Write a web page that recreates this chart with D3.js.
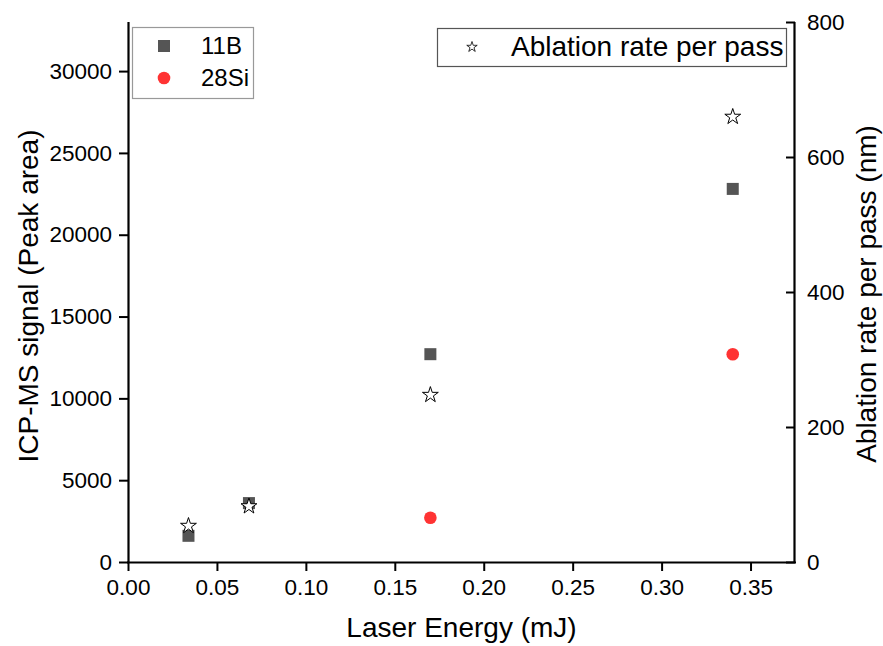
<!DOCTYPE html>
<html>
<head>
<meta charset="utf-8">
<script src="https://cdn.jsdelivr.net/npm/d3@7"></script>
<style>
  html, body { margin: 0; padding: 0; background: #fff; }
  svg text { font-family: "Liberation Sans", Arial, sans-serif; fill: #000; }
</style>
</head>
<body>
<svg id="chart" width="883" height="646"></svg>
<script>
// ---- data ----
const energyB = [0.034, 0.068, 0.17, 0.34];
const signalB = [1600, 3600, 12700, 22800];
const energySi = [0.17, 0.34];
const signalSi = [2700, 12700];
const energyAbl = [0.034, 0.068, 0.17, 0.34];
const ablationRate = [55, 84, 249, 661];
const xTicks = [0, 0.05, 0.10, 0.15, 0.20, 0.25, 0.30, 0.35];
const yLeftTicks = [0, 5000, 10000, 15000, 20000, 25000, 30000];
const yRightTicks = [0, 200, 400, 600, 800];
const seriesNames = ["11B", "28Si", "Ablation rate per pass"];
const xTitle = "Laser Energy (mJ)";
const yLeftTitle = "ICP-MS signal (Peak area)";
const yRightTitle = "Ablation rate per pass (nm)";

// ---- layout ----
const L = 128, R = 795, T = 22, B = 562;
const svg = d3.select("#chart");

const x = d3.scaleLinear().domain([0, 0.375]).range([L, R]);
const yL = d3.scaleLinear().domain([0, 33000]).range([B, T]);
const yR = d3.scaleLinear().domain([0, 800]).range([B, T]);

const tickFont = "22.5px";

function minor(step, dom) {
  const out = [];
  for (let v = dom[0]; v <= dom[1] + 1e-9; v += step) out.push(+v.toFixed(6));
  return out;
}

// X axis
const gx = svg.append("g").attr("transform", `translate(0,${B})`);
gx.call(d3.axisBottom(x).tickValues(minor(0.025, [0, 0.375])).tickSize(5).tickFormat(""));
gx.call(d3.axisBottom(x).tickValues(xTicks).tickSize(9).tickFormat(d3.format(".2f")).tickPadding(8));
gx.selectAll("text").style("font-size", tickFont);

// Left axis
const gl = svg.append("g").attr("transform", `translate(${L},0)`);
gl.call(d3.axisLeft(yL).tickValues(minor(2500, [0, 33000])).tickSize(5).tickFormat(""));
gl.call(d3.axisLeft(yL).tickValues(yLeftTicks).tickSize(9).tickFormat(d3.format("d")).tickPadding(7));
gl.selectAll("text").style("font-size", tickFont);

// Right axis (ticks pointing inward)
const gr = svg.append("g").attr("transform", `translate(${R},0)`);
gr.call(d3.axisLeft(yR).tickValues(minor(100, [0, 800])).tickSize(5).tickFormat(""));
gr.call(d3.axisLeft(yR).tickValues(yRightTicks).tickSize(9).tickFormat(""));
gr.append("g").selectAll("text").data(yRightTicks).join("text")
  .attr("x", 12).attr("y", d => yR(d)).attr("dy", "0.35em")
  .attr("text-anchor", "start")
  .style("font-size", tickFont).text(d => d);

svg.selectAll(".domain").attr("stroke", "#000").attr("stroke-width", 2.2);
svg.selectAll(".tick line").attr("stroke", "#000").attr("stroke-width", 2);
gx.selectAll(".domain").attr("d", `M${L - 1},0.5H${R + 1}`);
gl.selectAll(".domain").attr("d", `M0.5,${B}V${T}`);
gr.selectAll(".domain").attr("d", `M-0.5,${B}V${T}`);

// Titles
svg.append("text").attr("x", (L + R) / 2).attr("y", 637).attr("text-anchor", "middle")
  .style("font-size", "28px").text(xTitle);
svg.append("text").attr("transform", `translate(38,${(T + B) / 2 + 4}) rotate(-90)`)
  .attr("text-anchor", "middle").style("font-size", "28px").text(yLeftTitle);
svg.append("text").attr("transform", `translate(876,${(T + B) / 2 + 2}) rotate(-90)`)
  .attr("text-anchor", "middle").style("font-size", "28px").text(yRightTitle);

// ---- marks ----
const sq = 12;
svg.append("g").selectAll("rect").data(energyB.map((e, i) => [e, signalB[i]])).join("rect")
  .attr("x", d => x(d[0]) - sq / 2).attr("y", d => yL(d[1]) - sq / 2)
  .attr("width", sq).attr("height", sq).attr("fill", "#555555");

svg.append("g").selectAll("circle").data(energySi.map((e, i) => [e, signalSi[i]])).join("circle")
  .attr("cx", d => x(d[0])).attr("cy", d => yL(d[1])).attr("r", 6.3).attr("fill", "#ff3333");

const star = d3.symbol().type(d3.symbolStar).size(78);
svg.append("g").selectAll("path").data(energyAbl.map((e, i) => [e, ablationRate[i]])).join("path")
  .attr("transform", d => `translate(${x(d[0])},${yR(d[1]) + 1})`)
  .attr("d", star).attr("fill", "#fff").attr("stroke", "#000").attr("stroke-width", 1);

// ---- legends ----
const lg1 = svg.append("g");
lg1.append("rect").attr("x", 132.5).attr("y", 27.5).attr("width", 121).attr("height", 71)
  .attr("fill", "#fff").attr("stroke", "#999").attr("stroke-width", 1.2);
lg1.append("rect").attr("x", 164 - 6).attr("y", 46 - 6).attr("width", 12).attr("height", 12).attr("fill", "#555555");
lg1.append("circle").attr("cx", 164).attr("cy", 78).attr("r", 6.3).attr("fill", "#ff3333");
lg1.append("text").attr("x", 201).attr("y", 54).style("font-size", "24px").text(seriesNames[0]);
lg1.append("text").attr("x", 201).attr("y", 86).style("font-size", "24px").text(seriesNames[1]);

const lg2 = svg.append("g");
lg2.append("rect").attr("x", 437.5).attr("y", 28.5).attr("width", 349).attr("height", 38)
  .attr("fill", "#fff").attr("stroke", "#555").attr("stroke-width", 1.2);
lg2.append("path").attr("transform", "translate(472,47)").attr("d", d3.symbol().type(d3.symbolStar).size(34))
  .attr("fill", "#fff").attr("stroke", "#000").attr("stroke-width", 0.8);
lg2.append("text").attr("x", 511).attr("y", 56).style("font-size", "28px").text(seriesNames[2]);
</script>
</body>
</html>
